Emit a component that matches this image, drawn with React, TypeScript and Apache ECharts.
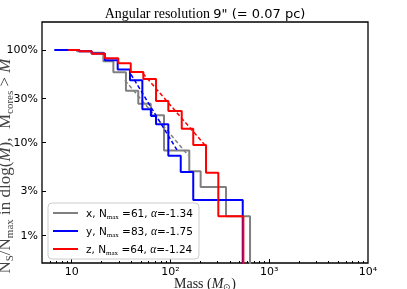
import React, { useEffect, useRef } from 'react';
import * as echarts from 'echarts';

// Cumulative step curves: bin edges (mass, M_sun) and levels (% of N_max)
const grayEdges = [7.6, 11.3, 15.9, 20.9, 26.4, 35.4, 47.2, 63.1, 86, 155, 202, 365, 639];
const grayLevels = [100, 96.7, 93.4, 75.4, 57.4, 36.1, 26.2, 19.7, 8.2, 4.9, 3.3, 1.6];

const blueEdges = [6.66, 11.9, 15.9, 21.7, 29.2, 38.9, 51.9, 63.5, 71.4, 95.1, 127, 170, 539];
const blueLevels = [100, 96.4, 91.6, 77.1, 61.4, 47.0, 22.9, 19.3, 15.7, 7.2, 4.8, 2.4];

const redEdges = [9.23, 11.93, 15.94, 21.7, 29.6, 39.6, 53.1, 71.4, 95.1, 130, 170, 229, 305, 547];
const redLevels = [100, 96.9, 90.6, 81.3, 71.9, 57.8, 48.4, 28.1, 21.9, 14.1, 9.4, 4.7, 1.6];

// Power-law fits (dashed): [mass, %]
const grayFit = [[34.6, 46.9], [150.5, 7.3]];
const blueFit = [[39.8, 54.4], [119, 7.99]];
const redFit = [[52.5, 55.7], [229, 9.1]];

const legendLabels: Record<string, [string, string]> = {
  x: ['61', '-1.34'],
  y: ['83', '-1.75'],
  z: ['64', '-1.24'],
};

const yTicks = [1, 3, 10, 30, 100];
const xTicks = [10, 100, 1000, 10000];
const xMinorTicks = [6, 7, 8, 9, 20, 30, 40, 50, 60, 70, 80, 90, 200, 300, 400, 500, 600, 700, 800, 900, 2000, 3000, 4000, 5000, 6000, 7000, 8000, 9000];

const FLOOR = 0.05;

function steps(edges: number[], levels: number[]) {
  const pts: number[][] = [];
  levels.forEach((l, i) => {
    pts.push([edges[i], l]);
    pts.push([edges[i + 1], l]);
  });
  pts.push([edges[edges.length - 1], FLOOR]);
  return pts;
}

const supMap: Record<number, string> = { 10: '10', 100: '10²', 1000: '10³', 10000: '10⁴' };

export default function App() {
  const ref = useRef<HTMLDivElement>(null);
  useEffect(() => {
    if (!ref.current) return;
    const chart = echarts.init(ref.current, undefined, { renderer: 'svg' });
    const sans = 'DejaVu Sans';
    const serif = 'Liberation Serif';
    const stepSeries = (name: string, color: string, edges: number[], levels: number[]) => ({
      name,
      type: 'line',
      data: steps(edges, levels),
      showSymbol: false,
      symbol: 'none',
      color,
      lineStyle: { color, width: 2 },
      clip: true,
      z: 3,
    });
    const fitSeries = (color: string, data: number[][]) => ({
      type: 'line',
      data,
      showSymbol: false,
      symbol: 'none',
      color,
      lineStyle: { color, width: 1.5, type: [4, 2.5] },
      clip: true,
      z: 3,
    });
    chart.setOption({
      animation: false,
      grid: {
        left: 42,
        right: 39,
        top: 22,
        bottom: 26,
        show: true,
        borderColor: '#000',
        borderWidth: 1.3,
        backgroundColor: '#fff',
      },
      xAxis: [
        {
          type: 'log',
          logBase: 10,
          min: 5,
          max: 10000,
          axisLine: { show: false },
          splitLine: { show: false },
          axisTick: { show: true, inside: true, length: 4, customValues: [10, 100, 1000], lineStyle: { color: '#000' } },
          axisLabel: {
            customValues: xTicks,
            formatter: (v: number) => supMap[Math.round(v)] ?? '',
            color: '#000',
            fontFamily: sans,
            fontSize: 11,
            margin: 3,
          },
        },
        {
          type: 'log',
          logBase: 10,
          min: 5,
          max: 10000,
          position: 'bottom',
          axisLine: { show: false },
          splitLine: { show: false },
          axisLabel: { show: false },
          axisTick: { show: true, inside: true, length: 2, customValues: xMinorTicks, lineStyle: { color: '#000' } },
        },
      ],
      yAxis: {
        type: 'log',
        logBase: 10,
        min: 0.5,
        max: 200,
        axisLine: { show: false },
        splitLine: { show: false },
        axisTick: { show: true, inside: true, length: 4, customValues: yTicks, lineStyle: { color: '#000' } },
        axisLabel: {
          customValues: yTicks,
          formatter: (v: number) => `${Math.round(v)}%`,
          color: '#000',
          fontFamily: sans,
          fontSize: 11,
          margin: 4,
        },
      },
      legend: {
        data: ['x', 'y', 'z'],
        orient: 'vertical',
        left: 48,
        top: 203,
        icon: 'rect',
        itemWidth: 25,
        itemHeight: 2,
        itemGap: 5,
        padding: [4, 6, 3, 5],
        backgroundColor: 'rgba(255,255,255,0.85)',
        borderColor: '#ccc',
        borderWidth: 1,
        borderRadius: 4,
        textStyle: {
          fontFamily: sans,
          fontSize: 10,
          color: '#000',
          padding: [0, 0, 0, 3],
          rich: {
            a: { fontFamily: sans, fontSize: 10.5, color: '#000' },
            sub: { fontFamily: serif, fontSize: 7, color: '#000', verticalAlign: 'bottom', lineHeight: 14 },
            g: { fontFamily: serif, fontStyle: 'italic', fontSize: 11.5, color: '#000' },
          },
        },
        formatter: (name: string) => {
          const [n, a] = legendLabels[name];
          return `{a|${name}, N}{sub|max}{a| =${n}, }{g|α}{a|=${a}}`;
        },
      },
      series: [
        stepSeries('x', '#808080', grayEdges, grayLevels),
        fitSeries('#808080', grayFit),
        stepSeries('y', '#0000ff', blueEdges, blueLevels),
        fitSeries('#0000ff', blueFit),
        stepSeries('z', '#ff0000', redEdges, redLevels),
        fitSeries('#ff0000', redFit),
      ],
      graphic: [
        {
          type: 'text',
          x: 205,
          y: 13,
          style: {
            text: '{a|Angular resolution} {b|9" (= 0.07 pc)}',
            align: 'center',
            verticalAlign: 'middle',
            rich: {
              a: { fontFamily: serif, fontSize: 14, fill: '#000' },
              b: { fontFamily: sans, fontSize: 13, fill: '#000' },
            },
          },
        },
        {
          type: 'text',
          x: 205,
          y: 283,
          style: {
            text: '{a|Mass (}{i|M}{s|⊙}{a|)}',
            align: 'center',
            verticalAlign: 'middle',
            rich: {
              a: { fontFamily: serif, fontSize: 14, fill: '#222', lineHeight: 16 },
              i: { fontFamily: serif, fontStyle: 'italic', fontSize: 14, fill: '#222', lineHeight: 16 },
              s: { fontFamily: serif, fontSize: 9, fill: '#222', verticalAlign: 'bottom', lineHeight: 16 },
            },
          },
        },
        {
          type: 'text',
          x: 4,
          y: 166,
          rotation: Math.PI / 2,
          style: {
            text: '{a|N}{s|S}{a|/N}{s|max}{a| in dlog(}{i|M}{a|),  M}{s|cores}{a| > }{i|M}',
            align: 'center',
            verticalAlign: 'middle',
            rich: {
              a: { fontFamily: serif, fontSize: 17, fill: '#444', lineHeight: 20 },
              i: { fontFamily: serif, fontStyle: 'italic', fontSize: 17, fill: '#444', lineHeight: 20 },
              s: { fontFamily: serif, fontSize: 11, fill: '#444', verticalAlign: 'bottom', lineHeight: 20 },
            },
          },
        },
      ],
    });
    return () => chart.dispose();
  }, []);
  return <div ref={ref} style={{ position: 'fixed', left: 0, top: 0, width: 407, height: 289 }} />;
}
